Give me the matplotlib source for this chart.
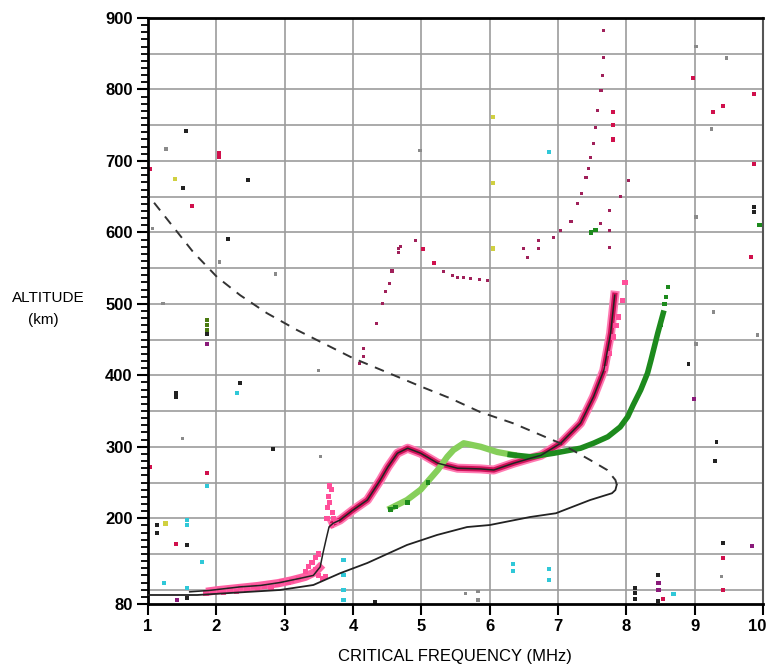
import matplotlib
matplotlib.use('Agg')
import matplotlib.pyplot as plt
from matplotlib.ticker import MultipleLocator
import matplotlib.transforms as mtransforms

plt.rcParams['font.family'] = ['Liberation Sans', 'DejaVu Sans']

# model profile (solid black line over the O trace)
model_f = [1.61, 1.9, 2.35, 2.65, 2.93, 3.23, 3.42, 3.52, 3.56, 3.61, 3.65, 3.71, 3.81, 4.0, 4.21,
           4.4, 4.51, 4.65, 4.8, 4.99, 5.24, 5.53, 5.87, 6.06, 6.35, 6.6, 6.75, 7.04, 7.33, 7.52,
           7.67, 7.77, 7.83]
model_h = [97, 99, 104, 106, 110, 116, 120, 132, 151, 172, 188, 193, 197.5, 211.5, 225.5,
           253.5, 271.7, 291, 298, 291, 277, 270, 269, 267.5, 277, 284, 288, 305, 333, 370,
           407, 459, 512]

# density profile: solid lower part + dashed topside
prof_f = [1.0, 1.72, 2.3, 2.93, 3.42, 3.81, 4.21, 4.79, 5.23, 5.67, 6.0, 6.59, 6.97, 7.47, 7.79, 7.84, 7.86]
prof_h = [92.6, 92.6, 96, 99.6, 106.6, 123, 137.4, 162.6, 176.6, 187.7, 190.5, 201.7, 207, 225.5, 235, 239.5, 247]
top_f = [7.86, 7.84, 7.72, 7.47, 7.03, 6.34, 5.86, 5.42, 5.01, 4.0, 3.18, 2.74, 2.35, 2.01, 1.66, 1.37, 1.06, 1.0]
top_h = [247, 253.5, 267.5, 281.5, 305, 333, 348.7, 368, 383.7, 424, 463.4, 487, 512, 537.6, 572.6, 607.6, 645, 650]

# O trace echoes (red / pink)
red_f = [1.85, 2.0, 2.3, 2.6, 2.9, 3.1, 3.3, 3.45, 3.55]
red_h = [97, 99, 102, 105, 109, 113, 118, 125, 135]
pink_f = [1.85, 1.95, 2.05, 2.1, 2.2, 2.3, 2.35, 2.45, 2.55, 2.6, 2.7, 2.8, 2.9, 2.95, 3.05, 3.1,
          3.2, 3.3, 3.35, 3.4, 3.45, 3.5, 3.55, 3.6, 3.45, 3.5,
          3.62, 3.63, 3.64, 3.66, 3.68, 3.66, 3.70, 3.72, 3.75, 3.68,
          7.70, 7.75, 7.81, 7.85, 7.88, 7.94, 7.98]
pink_h = [95, 97, 99, 96, 100, 98, 103, 101, 104, 100, 105, 103, 107, 111, 110, 113,
          116, 125, 132, 138, 128, 120, 116, 118, 145, 150,
          200, 215, 230, 245, 240, 222, 208, 200, 195, 190,
          410, 430, 453.6, 470, 481.6, 505, 530]

# X trace echoes (green)
glight_f = [4.55, 4.79, 4.99, 5.24, 5.38, 5.47, 5.62, 5.87, 6.11, 6.35]
glight_h = [214, 225.5, 240, 267.5, 286, 295.5, 305, 300, 292.7, 288.5]
gdark_f = [6.3, 6.6, 6.94, 7.33, 7.52, 7.73, 7.91, 8.02, 8.10, 8.21, 8.31, 8.36, 8.46, 8.54]
gdark_h = [289, 286, 291, 298, 305, 314, 327.7, 342, 358.5, 379.5, 403, 421, 459, 487]
gtop_f = [8.46, 8.5, 8.56, 8.58, 8.61, 7.48, 7.55, 9.95, 4.55, 4.62, 4.8, 5.1]
gtop_h = [459, 470, 500, 510, 524, 600, 603, 610, 212, 216, 222, 250]

# second-hop / scattered echoes
hop_f = [4.10, 4.15, 4.16, 4.35, 4.43, 4.48, 4.53, 4.57, 4.66, 4.66, 4.69, 4.91, 5.03, 5.18,
         5.33, 5.45, 5.53, 5.62, 5.72, 5.85, 5.97, 6.49, 6.56, 6.71, 6.72, 6.94, 7.04, 7.19,
         7.29, 7.35, 7.41, 7.45, 7.48, 7.52, 7.55, 7.58, 7.63, 7.65, 7.67, 7.67,
         7.62, 7.76, 7.91, 8.03, 7.76, 7.76]
hop_h = [417, 426, 438, 472, 501, 517, 529, 546, 572, 577, 580, 589, 577, 557,
         545, 540, 537, 537, 535, 534, 533, 578, 565, 589, 578, 593, 603, 615,
         641, 655, 677, 690, 705, 725, 747, 770, 799, 820, 845, 883,
         613, 631, 650, 673, 603, 579]
crim_f = [1.03, 1.644, 2.04, 2.04, 1.03, 1.86, 1.41, 9.42, 9.42, 8.54, 9.42, 7.80, 7.80, 7.80,
          8.98, 9.87, 9.27, 9.87, 9.83, 5.03, 5.19]
crim_h = [688.7, 637, 711, 705, 272, 263, 164, 144.4, 99.6, 87, 777, 730, 750, 768,
          816, 793.7, 768.5, 695.7, 565.6, 577, 557]
dark_f = [1.556, 1.51, 2.46, 2.17, 1.86, 2.347, 1.41, 1.41, 2.83, 1.13, 1.13, 1.57, 1.57,
          4.32, 8.13, 8.13, 8.13, 8.47, 8.47, 9.87, 9.87, 9.32, 9.30, 9.42, 8.91, 6.05]
dark_h = [742, 662, 673, 590.8, 458, 389, 375, 370, 297, 190.5, 179, 162.6, 88.4,
          83, 102, 95, 87, 120.6, 84, 635.6, 628.6, 306.7, 280, 165, 415.9, 578]
gray_f = [1.264, 2.05, 2.86, 1.22, 1.06, 1.50, 3.52, 3.49, 9.02, 9.47, 9.24, 9.02, 9.27,
          9.92, 9.02, 9.39, 5.64, 5.83, 5.83, 4.98]
gray_h = [716.7, 558.6, 541.8, 501, 606, 311, 286, 407, 859.5, 844, 744.7, 621.6, 488.6,
          456.4, 443.8, 119, 95, 98, 85.6, 715]
cyan_f = [2.30, 1.86, 1.57, 1.57, 1.79, 1.23, 1.57, 8.69, 6.34, 6.34, 6.87, 6.87, 3.86, 3.86, 3.86, 3.86, 6.87]
cyan_h = [375, 245, 197.5, 190.5, 139, 109, 102, 94, 136, 126, 129, 113.6, 141.6, 120, 100, 86, 712.6]
yellow_f = [1.395, 1.26, 6.05, 6.05, 6.05]
yellow_h = [674.7, 193, 761.5, 669, 578]
purple_f = [1.86, 1.42, 9.84, 8.47, 8.47, 8.99]
purple_h = [444, 85.6, 161, 109, 99.6, 367]
gbar_f = [1.86, 1.86, 1.86]
gbar_h = [477, 470, 463]

fig = plt.figure(figsize=(7.68, 6.66), dpi=100)
ax = fig.add_axes([148 / 768, 62 / 666, 615 / 768, 586 / 666])

for h in range(100, 900, 50):
    ax.axhline(h, color='#9c9c9c', lw=1.2, zorder=0)
for f in range(2, 10):
    ax.axvline(f, color='#9c9c9c', lw=1.2, zorder=0)

# echoes
ax.plot(red_f, red_h, color='#ff5fa2', lw=6, solid_capstyle='butt', zorder=2)
ax.plot(model_f[11:], model_h[11:], color='#ff7ab2', lw=6.5, zorder=2)
ax.plot(model_f[11:], model_h[11:], color='#d0125a', lw=3.8, zorder=2)
ax.scatter(pink_f, pink_h, s=14, marker='s', color='#ff4f9a', edgecolors='none', zorder=2)
ax.plot(glight_f, glight_h, color='#86cf5a', lw=4.5, zorder=2)
ax.plot(gdark_f, gdark_h, color='#1d8a1d', lw=4, zorder=2)
ax.scatter(gtop_f, gtop_h, s=10, marker='s', color='#1d8a1d', edgecolors='none', zorder=2)
ax.scatter(hop_f, hop_h, s=5, marker='s', color='#a0205a', edgecolors='none', zorder=2)
ax.scatter(crim_f, crim_h, s=9, marker='s', color='#d0104c', edgecolors='none', zorder=2)
ax.scatter(dark_f, dark_h, s=8, marker='s', color='#222222', edgecolors='none', zorder=2)
ax.scatter(gray_f, gray_h, s=5, marker='s', color='#8a8a8a', edgecolors='none', zorder=2)
ax.scatter(cyan_f, cyan_h, s=9, marker='s', color='#30c8d8', edgecolors='none', zorder=2)
ax.scatter(yellow_f, yellow_h, s=12, marker='s', color='#d0d040', edgecolors='none', zorder=2)
ax.scatter(purple_f, purple_h, s=10, marker='s', color='#8a1a7a', edgecolors='none', zorder=2)
ax.scatter(gbar_f, gbar_h, s=10, marker='s', color='#4a7a10', edgecolors='none', zorder=2)

# model lines
ax.plot(model_f, model_h, color='#222222', lw=1.1, zorder=3)
ax.plot(prof_f, prof_h, color='#222222', lw=1.3, zorder=3)
ax.plot(top_f, top_h, color='#333333', lw=1.4, dashes=(5, 4), zorder=3)

ax.set_xlim(1, 10)
ax.set_ylim(80, 900)
ax.set_xticks(range(1, 11))
ax.set_yticks([80, 200, 300, 400, 500, 600, 700, 800, 900])
ax.yaxis.set_minor_locator(MultipleLocator(10))
ax.tick_params(axis='both', which='major', direction='out', length=8, width=1.5,
               labelsize=12, pad=3)
ax.tick_params(axis='y', which='minor', direction='out', length=5, width=1.3)
for lab in ax.get_xticklabels() + ax.get_yticklabels():
    lab.set_fontweight('bold')
# keep the "10" inside the canvas
last = ax.get_xticklabels()[-1]
last.set_transform(last.get_transform() + mtransforms.ScaledTranslation(-6 / 100, 0, fig.dpi_scale_trans))

for s in ['left', 'bottom', 'top']:
    ax.spines[s].set_linewidth(2)
    ax.spines[s].set_color('black')
ax.spines['right'].set_linewidth(1.5)
ax.spines['right'].set_color('#555555')

fig.text(12 / 768, 1 - 298 / 666, 'ALTITUDE', fontsize=11, ha='left', va='center')
fig.text(28 / 768, 1 - 320 / 666, '(km)', fontsize=11, ha='left', va='center')
fig.text(455 / 768, 1 - 656 / 666, 'CRITICAL FREQUENCY (MHz)', fontsize=12, ha='center', va='center',
         family=['Liberation Sans Narrow', 'Liberation Sans'])

fig.savefig('out.png', dpi=100, facecolor='white')
